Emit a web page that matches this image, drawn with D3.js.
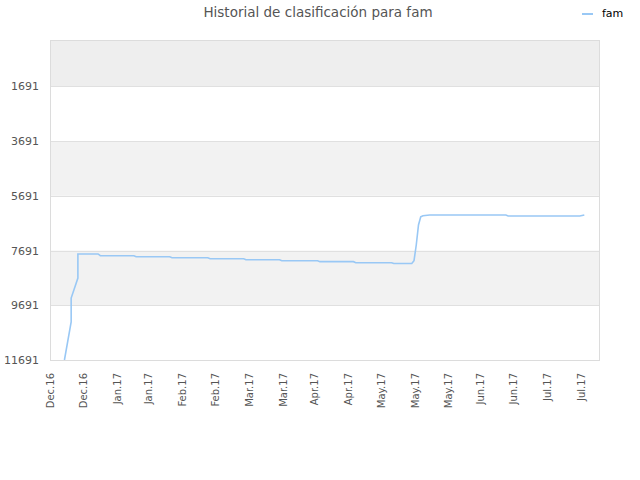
<!DOCTYPE html>
<html>
<head>
<meta charset="utf-8">
<script src="https://cdn.jsdelivr.net/npm/d3@7"></script>
<style>
  body { margin: 0; background: #fff; }
  text { font-family: "DejaVu Sans", sans-serif; }
</style>
</head>
<body>
<svg id="chart"></svg>
<script>
const width = 640
const height = 480
const marginTop = 40
const marginRight = 40
const marginBottom = 120
const marginLeft = 51

// values
const seriesName = "fam"
const dates = [
  "2016-12-10", "2016-12-13", "2016-12-13", "2016-12-16", "2016-12-16",
  "2016-12-25", "2016-12-26", "2017-01-10", "2017-01-11", "2017-01-26",
  "2017-01-27", "2017-02-12", "2017-02-13", "2017-02-28", "2017-03-01",
  "2017-03-16", "2017-03-17", "2017-04-02", "2017-04-03", "2017-04-18",
  "2017-04-19", "2017-05-05", "2017-05-06", "2017-05-14", "2017-05-15",
  "2017-05-16", "2017-05-17", "2017-05-18", "2017-05-19", "2017-05-22",
  "2017-06-25", "2017-06-26", "2017-07-28", "2017-07-30"
]
const ranks = [
  11691, 10300, 9430, 8700, 7818,
  7818, 7880, 7880, 7917, 7917,
  7953, 7953, 7990, 7990, 8026,
  8026, 8063, 8063, 8099, 8099,
  8136, 8136, 8166, 8166, 8063,
  7490, 6760, 6460, 6420, 6394,
  6394, 6430, 6430, 6394
]
const tickDates = [
  "2016-12-04", "2016-12-19", "2017-01-03", "2017-01-17", "2017-02-01",
  "2017-02-16", "2017-03-03", "2017-03-18", "2017-04-01", "2017-04-16",
  "2017-05-01", "2017-05-16", "2017-05-31", "2017-06-14", "2017-06-29",
  "2017-07-14", "2017-07-29"
]
const yTicks = [1691, 3691, 5691, 7691, 9691, 11691]
const xDomain = ["2016-12-04", "2017-08-06"]
const yDomain = [1, 11691]

const parse = d3.utcParse("%Y-%m-%d")
const data = dates.map((d, i) => ({date: parse(d), rank: ranks[i]}))

const svg = d3.select("#chart")
    .attr("width", width)
    .attr("height", height)

const chartWidth = width - marginLeft - marginRight
const chartHeight = height - marginTop - marginBottom

const x = d3.scaleUtc()
    .domain(xDomain.map(parse))
    .range([marginLeft, marginLeft + chartWidth])

const y = d3.scaleLinear()
    .domain(yDomain)
    .range([marginTop, marginTop + chartHeight])

// background bands, alternating between ticks
const bands = [
  {from: yDomain[0], to: yTicks[0], fill: "#eeeeee"},
  {from: yTicks[1], to: yTicks[2], fill: "#f2f2f2"},
  {from: yTicks[3], to: yTicks[4], fill: "#f2f2f2"}
]
svg.append("g").selectAll("rect")
    .data(bands)
    .join("rect")
    .attr("x", marginLeft)
    .attr("width", chartWidth)
    .attr("y", d => y(d.from))
    .attr("height", d => y(d.to) - y(d.from))
    .attr("fill", d => d.fill)

// grid lines
svg.append("g").selectAll("line")
    .data(yTicks)
    .join("line")
    .attr("x1", marginLeft)
    .attr("x2", marginLeft + chartWidth)
    .attr("y1", d => Math.round(y(d)) + 0.5)
    .attr("y2", d => Math.round(y(d)) + 0.5)
    .attr("stroke", "#e0e0e0")

// frame
svg.append("rect")
    .attr("x", marginLeft - 0.5)
    .attr("y", marginTop + 0.5)
    .attr("width", chartWidth)
    .attr("height", chartHeight)
    .attr("fill", "none")
    .attr("stroke", "#dcdcdc")

// Y ticks
const yAxis = svg.append("g")
    .attr("transform", `translate(${marginLeft}, 0)`)
    .call(d3.axisLeft(y).tickValues(yTicks).tickSize(0).tickPadding(12).tickFormat(d3.format("d")))
yAxis.select(".domain").remove()
yAxis.selectAll("text")
    .attr("fill", "#555")
    .attr("font-size", "11px")

// X ticks
const xAxis = svg.append("g")
    .attr("transform", `translate(0, ${marginTop + chartHeight})`)
    .call(d3.axisBottom(x).tickValues(tickDates.map(parse)).tickSize(0).tickFormat(d3.utcFormat("%b.%y")))
xAxis.select(".domain").remove()
xAxis.selectAll("text")
    .attr("fill", "#555")
    .attr("font-size", "10px")
    .attr("text-anchor", "end")
    .attr("x", -13)
    .attr("y", 0)
    .attr("dy", "0.2em")
    .attr("transform", "rotate(-90)")

// line
svg.append("clipPath").attr("id", "clip")
    .append("rect")
    .attr("x", marginLeft)
    .attr("y", marginTop)
    .attr("width", chartWidth)
    .attr("height", chartHeight)

const line = d3.line()
    .x(d => x(d.date))
    .y(d => y(d.rank))

svg.append("path")
    .datum(data)
    .attr("clip-path", "url(#clip)")
    .attr("fill", "none")
    .attr("stroke", "#99c8f5")
    .attr("stroke-width", 1.6)
    .attr("d", line)

// title
svg.append("text")
    .attr("x", 318)
    .attr("y", 17)
    .attr("text-anchor", "middle")
    .attr("font-size", "13.5px")
    .attr("fill", "#555")
    .text("Historial de clasificación para " + seriesName)

// legend
svg.append("line")
    .attr("x1", 582).attr("x2", 593)
    .attr("y1", 14).attr("y2", 14)
    .attr("stroke", "#99c8f5")
    .attr("stroke-width", 2)
svg.append("text")
    .attr("x", 602)
    .attr("y", 13)
    .attr("dy", "0.35em")
    .attr("font-size", "11px")
    .attr("fill", "#000")
    .text(seriesName)
</script>
</body>
</html>
